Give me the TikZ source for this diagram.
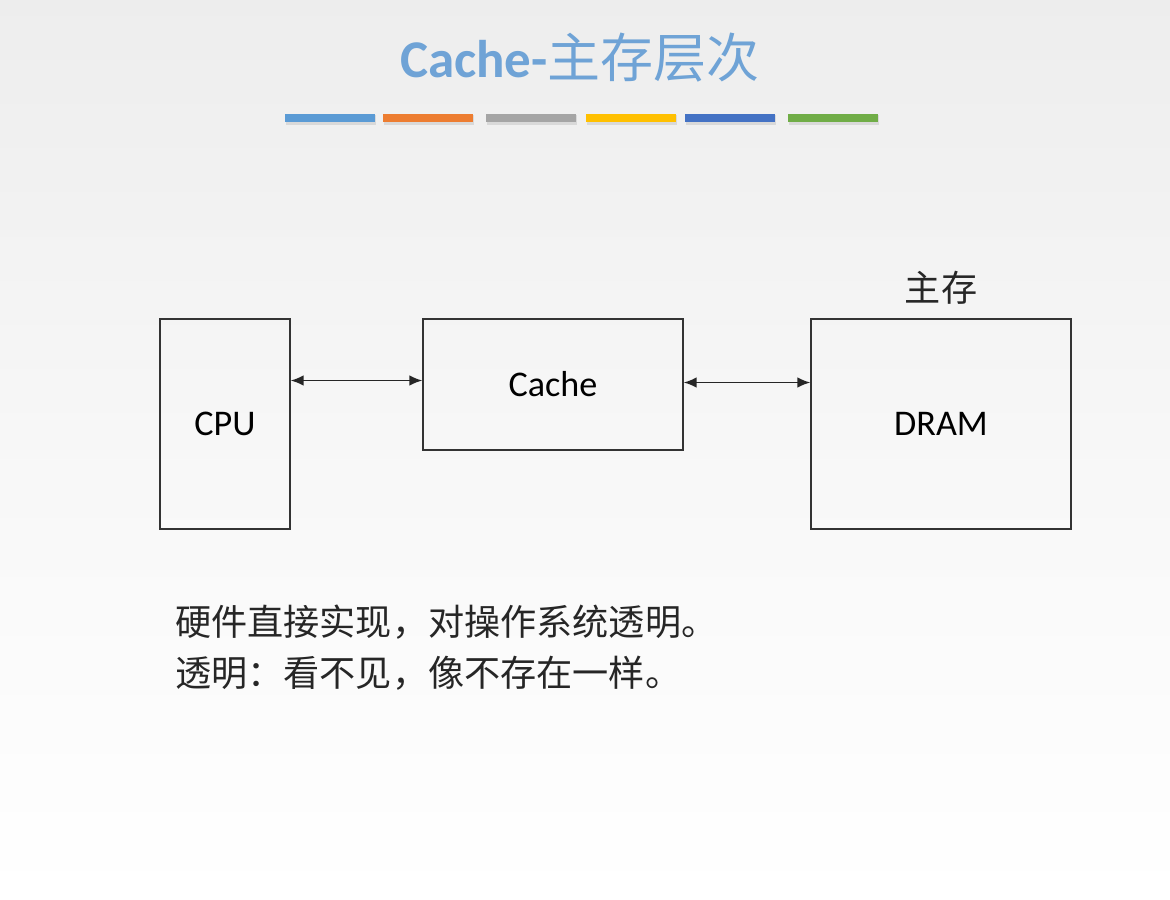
\documentclass[tikz,border=0pt]{standalone}
\usepackage{fontspec}
\setmainfont{Carlito}
\newfontfamily\cjk{Noto Sans CJK SC}
\usetikzlibrary{arrows.meta,calc}

\definecolor{titleblue}{HTML}{6FA3D6}
\definecolor{barA}{HTML}{5B9BD5}
\definecolor{barB}{HTML}{ED7D31}
\definecolor{barC}{HTML}{A5A5A5}
\definecolor{barD}{HTML}{FFC000}
\definecolor{barE}{HTML}{4472C4}
\definecolor{barF}{HTML}{70AD47}
\definecolor{inkgray}{HTML}{262626}

\begin{document}
\begin{tikzpicture}[x=0.025cm,y=-0.025cm,>=Stealth,
  unit/.style={draw=black!80,line width=1pt,inner sep=0pt,text=black,
    font=\fontsize{25.7}{30}\selectfont},
  link/.style={{Latex[length=3.2mm,width=2.6mm]}-{Latex[length=3.2mm,width=2.6mm]},
    black!85,line width=1pt},
  note/.style={anchor=west,inner sep=0pt,text=inkgray,
    font=\fontsize{25.7}{30}\selectfont\cjk}]
  % page and background
  \shade[top color=black!7,bottom color=white,middle color=black!3]
    (0,0) rectangle (1170,900);
  \useasboundingbox (0,0) rectangle (1170,900);

  % title
  \node[text=titleblue,font=\fontsize{37.7}{42}\selectfont] (title) at (580,58)
    {\bfseries Cache-{\cjk\mdseries 主存层次}};
  \foreach \x/\c in {285/barA,383/barB,486/barC,586/barD,685/barE,788/barF}{
    \fill[black!15] (\x+1,115) rectangle (\x+91,125);
    \fill[\c] (\x,114) rectangle (\x+90,122);
  }

  % units
  \node[unit,minimum width=3.25cm,minimum height=5.25cm] (cpu) at (225,424) {CPU};
  \node[unit,minimum width=6.5cm,minimum height=3.275cm] (cache) at (553,384.5) {Cache};
  \node[unit,minimum width=6.5cm,minimum height=5.25cm] (dram) at (941,424) {DRAM};
  \node[note,anchor=south] (mainmem) at ($(dram.north)+(0,-14)$) {主存};

  % links
  \draw[link] ($(cpu.east |- cache.west)+(0,-4)$) -- ($(cache.west)+(0,-4)$);
  \draw[link] ($(cache.east)+(0,-2)$) -- ($(dram.west |- cache.east)+(0,-2)$);

  % notes
  \node[note] (line1) at (175,622) {硬件直接实现，对操作系统透明。};
  \node[note] (line2) at (175,673) {透明：看不见，像不存在一样。};
\end{tikzpicture}
\end{document}
